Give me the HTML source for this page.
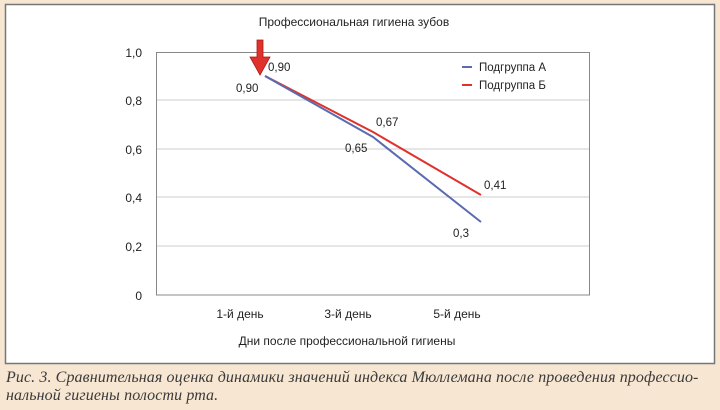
<!DOCTYPE html><html><head><meta charset="utf-8"><style>
body{margin:0;width:720px;height:410px;background:#f6e6d2;overflow:hidden;position:relative;font-family:"Liberation Sans",sans-serif}
.cap{position:absolute;left:6px;font-family:"Liberation Serif",serif;font-style:italic;font-size:16px;color:#3a3a3a;letter-spacing:0.1px;white-space:nowrap}
</style></head><body>
<svg width="720" height="410" style="position:absolute;left:0;top:0" font-family="Liberation Sans, sans-serif">
<rect x="5.5" y="4.5" width="709" height="359" fill="#fff" stroke="#777" stroke-width="1.5"/>
<text x="354" y="26" font-size="12" text-anchor="middle" fill="#222">Профессиональная гигиена зубов</text>
<g stroke="#ccc" stroke-width="1"><line x1="156" y1="100" x2="590" y2="100"/><line x1="156" y1="149" x2="590" y2="149"/><line x1="156" y1="197" x2="590" y2="197"/><line x1="156" y1="246" x2="590" y2="246"/></g>
<rect x="156.5" y="52.5" width="433" height="242.5" fill="none" stroke="#888" stroke-width="1"/>
<g font-size="12" fill="#222" text-anchor="end"><text x="142" y="57">1,0</text><text x="142" y="105">0,8</text><text x="142" y="154">0,6</text><text x="142" y="202">0,4</text><text x="142" y="251">0,2</text><text x="142" y="300">0</text></g>
<g font-size="12" fill="#222" text-anchor="middle"><text x="240" y="318">1-й день</text><text x="348" y="318">3-й день</text><text x="457" y="318">5-й день</text><text x="347" y="345">Дни после профессиональной гигиены</text></g>
<polyline points="265,76 373,132 481,195" fill="none" stroke="#e0322c" stroke-width="2"/>
<polyline points="265,76 373,137 481,222" fill="none" stroke="#5a6bb0" stroke-width="2"/>
<g font-size="11.5" fill="#222"><text x="268" y="71">0,90</text><text x="236" y="92">0,90</text><text x="376" y="126">0,67</text><text x="345" y="152">0,65</text><text x="484" y="189">0,41</text><text x="453" y="237">0,3</text></g>
<line x1="462" y1="67" x2="472" y2="67" stroke="#5a6bb0" stroke-width="2"/><line x1="462" y1="85" x2="472" y2="85" stroke="#e0322c" stroke-width="2"/>
<g font-size="11.5" fill="#222"><text x="479" y="71">Подгруппа А</text><text x="479" y="89">Подгруппа Б</text></g>
<polygon points="257,40 263,40 263,57 270,57 260,75 250,57 257,57" fill="#e0322c" stroke="#b01a15" stroke-width="0.8"/>
</svg>
<div class="cap" style="top:369px">Рис. 3. Сравнительная оценка динамики значений индекса Мюллемана после проведения профессио-</div>
<div class="cap" style="top:387px">нальной гигиены полости рта.</div>
</body></html>
